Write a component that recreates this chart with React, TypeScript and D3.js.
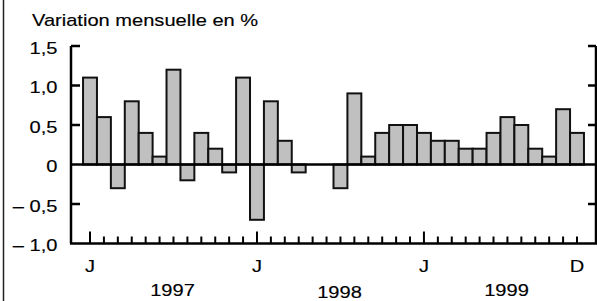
import React from "react";
import * as d3 from "d3";

// monthly change in %, Jan 1997 .. Dec 1999
const values1997 = [1.1, 0.6, -0.3, 0.8, 0.4, 0.1, 1.2, -0.2, 0.4, 0.2, -0.1, 1.1];
const values1998 = [-0.7, 0.8, 0.3, -0.1, 0, 0, -0.3, 0.9, 0.1, 0.4, 0.5, 0.5];
const values1999 = [0.4, 0.3, 0.3, 0.2, 0.2, 0.4, 0.6, 0.5, 0.2, 0.1, 0.7, 0.4];
const years = ["1997", "1998", "1999"];
const yTicks = [1.5, 1.0, 0.5, 0, -0.5, -1.0];
const monthLabels = [
  { i: 0, t: "J" },
  { i: 12, t: "J" },
  { i: 24, t: "J" },
  { i: 35, t: "D" },
];
const title = "Variation mensuelle en %";

const values = [...values1997, ...values1998, ...values1999];

const W = 597, H = 301;
const left = 71, right = 596;
const SX = 1.24; // the source font is drawn wide

function fmt(v: number) {
  if (v === 0) return "0";
  const s = Math.abs(v).toFixed(1).replace(".", ",");
  return v < 0 ? "\u2013 " + s : s;
}

function T(props: { x: number; y: number; anchor?: string; children: React.ReactNode }) {
  return (
    <text
      transform={`translate(${props.x},${props.y}) scale(${SX},1)`}
      textAnchor={props.anchor || "start"}
      fontSize={16.2}
      fill="#000"
      stroke="#000"
      strokeWidth={0.15}
    >
      {props.children}
    </text>
  );
}

export default function App() {
  const x = d3.scaleLinear().domain([0, 35]).range([90, 577]);
  const step = x(1) - x(0);
  const y = d3.scaleLinear().domain([-1, 1.5]).range([243.5, 46]);

  return (
    <svg
      width={W}
      height={H}
      style={{ position: "absolute", left: 0, top: 0, fontFamily: "'Liberation Sans', Arial, sans-serif" }}
    >
      <rect width={W} height={H} fill="white" />
      <line x1={3.5} x2={3.5} y1={0} y2={H} stroke="#222" strokeWidth={1.5} />

      <T x={32} y={26}>{title}</T>

      {/* bars */}
      {values.map((v, i) =>
        v === 0 ? null : (
          <rect
            key={i}
            x={x(i) - step / 2}
            width={step}
            y={y(Math.max(v, 0))}
            height={Math.abs(y(v) - y(0))}
            fill="#c0c0c0"
            stroke="#111"
            strokeWidth={2}
          />
        )
      )}

      {/* axes */}
      <line x1={left} x2={left} y1={y(1.5)} y2={y(-1)} stroke="#000" strokeWidth={2.5} />
      <line x1={right} x2={right} y1={y(1.5)} y2={y(-1)} stroke="#000" strokeWidth={2.5} />
      <line x1={left} x2={right} y1={y(0)} y2={y(0)} stroke="#000" strokeWidth={2.5} />
      <line x1={left - 1} x2={right + 1} y1={y(-1)} y2={y(-1)} stroke="#000" strokeWidth={2.5} />

      {yTicks.map((t) => (
        <g key={t}>
          {t !== 0 && t !== -1 && (
            <>
              <line x1={left} x2={left + 9} y1={y(t)} y2={y(t)} stroke="#000" strokeWidth={2.5} />
              <line x1={right - 8} x2={right} y1={y(t)} y2={y(t)} stroke="#000" strokeWidth={2.5} />
            </>
          )}
          <T x={57.5} y={y(t) + 7.5} anchor="end">{fmt(t)}</T>
        </g>
      ))}

      {values.map((_, i) => (
        <line
          key={"t" + i}
          x1={x(i)}
          x2={x(i)}
          y1={y(-1)}
          y2={y(-1) - (i % 12 === 0 ? 12 : 7)}
          stroke="#000"
          strokeWidth={2}
        />
      ))}

      {monthLabels.map((m) => (
        <T key={m.i} x={x(m.i)} y={272} anchor="middle">{m.t}</T>
      ))}

      {years.map((yr, k) => (
        <T key={yr} x={x(k * 12 + 5.5) + 6} y={k === 1 ? 297.5 : 295.5} anchor="middle">{yr}</T>
      ))}
    </svg>
  );
}
